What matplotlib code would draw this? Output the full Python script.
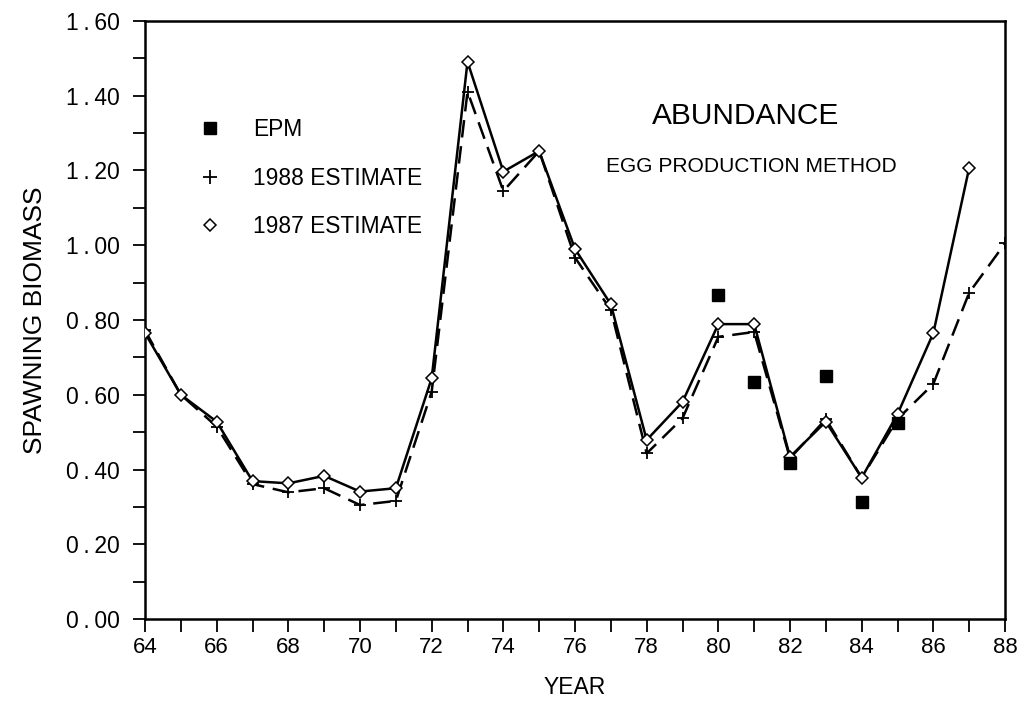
import matplotlib
matplotlib.use("Agg")
import matplotlib.pyplot as plt
from matplotlib.lines import Line2D
from matplotlib.ticker import MultipleLocator, FuncFormatter

plt.rcParams['font.family'] = ['Liberation Sans', 'DejaVu Sans']

years_1987 = [64, 65, 66, 67, 68, 69, 70, 71, 72, 73, 74, 75, 76, 77, 78, 79,
              80, 81, 82, 83, 84, 85, 86, 87]
est_1987 = [0.765, 0.600, 0.528, 0.369, 0.363, 0.383, 0.341, 0.350, 0.644, 1.491,
            1.197, 1.252, 0.990, 0.842, 0.479, 0.581, 0.789, 0.789, 0.434, 0.528,
            0.378, 0.548, 0.765, 1.207]

years_1988 = [64, 65, 66, 67, 68, 69, 70, 71, 72, 73, 74, 75, 76, 77, 78, 79,
              80, 81, 82, 83, 84, 85, 86, 87, 88]
est_1988 = [0.772, 0.600, 0.515, 0.361, 0.339, 0.350, 0.305, 0.316, 0.608, 1.411,
            1.145, 1.252, 0.967, 0.827, 0.443, 0.537, 0.755, 0.768, 0.430, 0.535,
            0.378, 0.535, 0.629, 0.873, 1.005]

years_epm = [80, 81, 82, 83, 84, 85]
epm = [0.867, 0.635, 0.418, 0.650, 0.313, 0.524]

x_ticks = [64, 66, 68, 70, 72, 74, 76, 78, 80, 82, 84, 86, 88]
y_ticks = [0.0, 0.2, 0.4, 0.6, 0.8, 1.0, 1.2, 1.4, 1.6]

fig = plt.figure(figsize=(10.17, 7.02), dpi=100)
ax = fig.add_axes([0.1426, 0.1182, 0.8456, 0.8519])

ax.plot(years_1987, est_1987, color='black', lw=1.8, ls='-', marker='D',
        markersize=6, markerfacecolor='white', markeredgecolor='black',
        markeredgewidth=1.1, zorder=3)
ax.plot(years_1988, est_1988, color='black', lw=1.8, ls=(0, (7, 3.5)), marker='+',
        markersize=9, markeredgewidth=1.3, zorder=2)
ax.plot(years_epm, epm, ls='none', marker='s', markersize=8, color='black', zorder=4)

ax.set_xlim(64, 88)
ax.set_ylim(0, 1.6)
ax.set_xticks(x_ticks)
ax.xaxis.set_minor_locator(MultipleLocator(1))
ax.set_yticks(y_ticks)
ax.yaxis.set_minor_locator(MultipleLocator(0.1))
ax.yaxis.set_major_formatter(
    FuncFormatter(lambda v, p: f"{v:.2f}".replace('.', '\u2009.\u2009')))
ax.tick_params(axis='both', which='both', direction='out', width=1.3,
               top=False, right=False)
ax.tick_params(axis='both', which='major', length=9)
ax.tick_params(axis='both', which='minor', length=9)
ax.tick_params(axis='x', pad=4, labelsize=16)
ax.tick_params(axis='y', pad=9, labelsize=16.5)
for s in ax.spines.values():
    s.set_linewidth(1.8)

ax.set_xlabel('YEAR', fontsize=16.5, labelpad=13)
ax.set_ylabel('SPAWNING BIOMASS', fontsize=19, labelpad=14)

ax.text(0.698, 0.841, 'ABUNDANCE', transform=ax.transAxes, fontsize=21.5,
        ha='center', va='center')
ax.text(0.705, 0.7575, 'EGG PRODUCTION METHOD', transform=ax.transAxes, fontsize=15.1,
        ha='center', va='center')

handles = [
    Line2D([], [], ls='none', marker='s', markersize=9, color='black'),
    Line2D([], [], ls='none', marker='+', markersize=10, markeredgewidth=1.3, color='black'),
    Line2D([], [], ls='none', marker='D', markersize=6, markerfacecolor='white',
           markeredgecolor='black', markeredgewidth=1.1),
]
labels = ['EPM', '1988 ESTIMATE', '1987 ESTIMATE']
ax.legend(handles, labels, loc='upper left', bbox_to_anchor=(0.0634, 0.837),
          frameon=False, fontsize=16.4, handlelength=0.95, handletextpad=1.4,
          labelspacing=1.1, borderpad=0, borderaxespad=0)

fig.savefig('out.png', dpi=100)
